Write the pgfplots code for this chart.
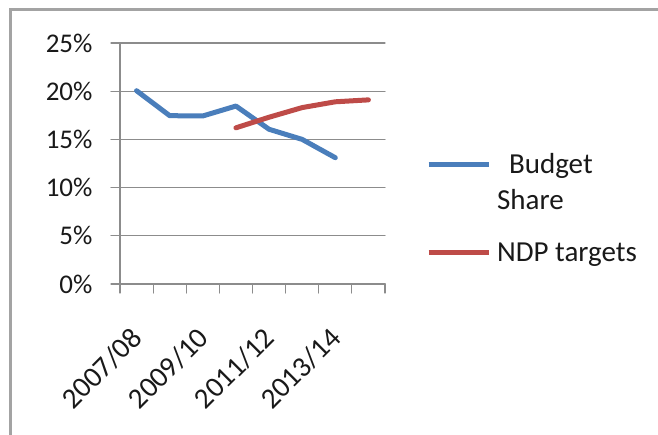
\documentclass[border=0pt]{standalone}
\usepackage{fontspec}
\setmainfont{Carlito}
\usepackage{pgfplots}
\pgfplotsset{compat=1.18}
\definecolor{xblue}{RGB}{74,126,187}
\definecolor{xred}{RGB}{190,75,72}
\definecolor{xgrid}{RGB}{140,140,140}
\definecolor{xtext}{RGB}{25,25,25}
\begin{document}
\begin{tikzpicture}
\useasboundingbox (0pt,0pt) rectangle (658pt,435pt);
\draw[xgrid!80, line width=3pt] (658pt,425pt) -- (10pt,425pt) -- (10pt,0pt);
\begin{axis}[
  at={(120pt,151pt)}, anchor=south west,
  scale only axis, width=265pt, height=241pt,
  xmin=0, xmax=8, ymin=0, ymax=25,
  axis x line*=bottom, axis y line*=left,
  axis line style={xgrid, line width=1.2pt, -},
  ytick={0,5,...,25},
  ymajorgrids, major grid style={xgrid, line width=1.2pt},
  tick style={xgrid, line width=1.2pt},
  tick align=outside, major tick length=9pt,
  /pgf/number format/assume math mode=true,
  yticklabel={\pgfmathprintnumber{\tick}\%},
  yticklabel style={font=\fontsize{27}{29}\selectfont, text=xtext, xshift=-15pt},
  xtick={0,...,8}, xticklabels={},
  extra x ticks={0.5,2.5,4.5,6.5},
  extra x tick labels={2007/08,2009/10,2011/12,2013/14},
  extra x tick style={major tick length=0pt, grid=none,
    xticklabel style={rotate=45, anchor=north east, font=\fontsize{29}{31}\selectfont, text=xtext, xshift=-31pt, yshift=-21pt}},
  legend style={draw=none, fill=none, at={(axis description cs:1.143,0.56)}, anchor=north west,
    font=\fontsize{29}{31}\selectfont, text=xtext, row sep=10pt, column sep=4pt},
  legend cell align=left,
  legend image code/.code={\draw[#1, line width=5pt] (0pt,0pt) -- (60pt,0pt);},
  line cap=round, line join=round,
]
\addplot[xblue, line width=5pt] coordinates {(0.5,20.05) (1.5,17.46) (2.5,17.43) (3.5,18.46) (4.5,16.05) (5.5,15.0) (6.5,13.1)};
\addlegendentry{\hspace{12pt}Budget}
\addlegendimage{legend image code/.code={\path[draw=none, fill=none] (0pt,-31pt) rectangle (60pt,0pt);}}
\addlegendentry{Share}
\addplot[xred, line width=5pt] coordinates {(3.5,16.2) (4.5,17.3) (5.5,18.3) (6.5,18.9) (7.5,19.1)};
\addlegendentry{NDP targets}
\end{axis}
\end{tikzpicture}
\end{document}
